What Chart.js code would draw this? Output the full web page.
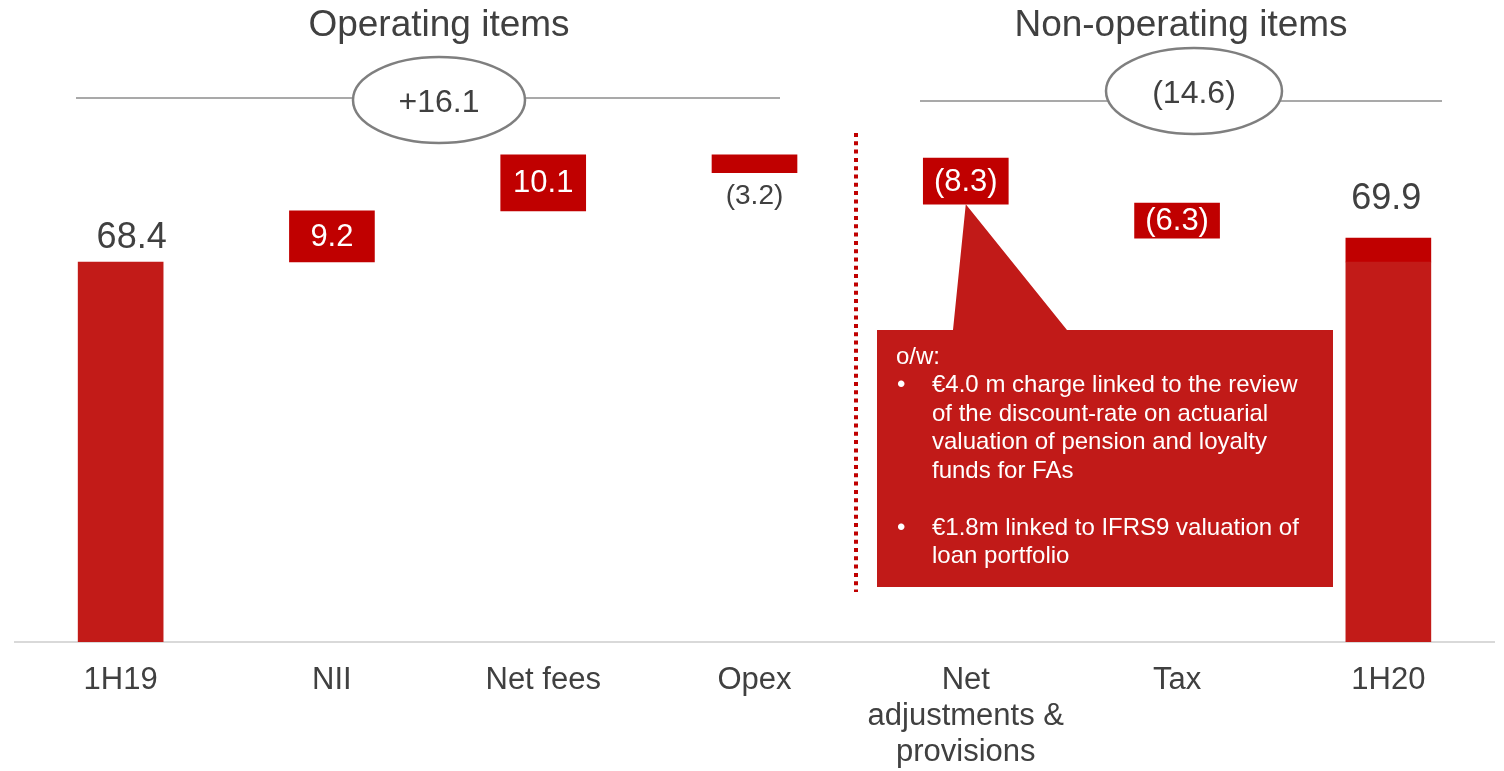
<!DOCTYPE html>
<html>
<head>
<meta charset="utf-8">
<script src="https://cdn.jsdelivr.net/npm/chart.js@4.4.0/dist/chart.umd.min.js"></script>
<style>
  html, body { margin: 0; padding: 0; background: #fff; }
</style>
</head>
<body>
<canvas id="bridge" width="1504" height="771"></canvas>
<script>
// 1H19 -> 1H20 net profit bridge

const categories = ['1H19', 'NII', 'Net fees', 'Opex', ['Net', 'adjustments &', 'provisions'], 'Tax', '1H20'];
const changes = [68.4, 9.2, 10.1, -3.2, -8.3, -6.3, 69.9];

// floating bar ends as drawn on the slide
const barLow = [0, 68.4, 77.6, 84.5, 78.8, 72.7, 0];
const barHigh = [68.4, 77.6, 87.7, 87.7, 87.1, 79.0, 68.4];
// darker top of the 1H20 column
const capLow = [null, null, null, null, null, null, 68.4];
const capHigh = [null, null, null, null, null, null, 72.7];

const groupTitles = ['Operating items', 'Non-operating items'];
const groupTotals = ['+16.1', '(14.6)'];

const noteHeader = 'o/w:';
const noteBullets = [
  ['€4.0 m charge linked to the review', 'of the discount-rate on actuarial', 'valuation of pension and loyalty', 'funds for FAs'],
  ['€1.8m linked to IFRS9 valuation of', 'loan portfolio']
];

const FONT = '"Liberation Sans", Arial, sans-serif';
const DARK_RED = '#C00000';
const RED = '#C21B18';
const TEXT = '#404040';

function fmt(v) {
  return v < 0 ? '(' + Math.abs(v).toFixed(1) + ')' : v.toFixed(1);
}

const floatData = barLow.map((lo, i) => [lo, barHigh[i]]);
const capData = capLow.map((lo, i) => (lo === null ? null : [lo, capHigh[i]]));
const barColors = categories.map((c, i) => (i === 0 || i === categories.length - 1) ? RED : DARK_RED);

// where each value label goes relative to its bar
const labelMode = ['above', 'inside', 'inside', 'below', 'inside', 'inside', 'above'];

const decorPlugin = {
  id: 'decor',
  afterDatasetsDraw(chart) {
    const ctx = chart.ctx;
    const bars = chart.getDatasetMeta(0).data;
    const caps = chart.getDatasetMeta(1).data;
    ctx.save();

    // group headers
    ctx.fillStyle = TEXT;
    ctx.textAlign = 'center';
    ctx.textBaseline = 'middle';
    ctx.font = '37px ' + FONT;
    ctx.fillText(groupTitles[0], 439, 26);
    ctx.fillText(groupTitles[1], 1181, 26);

    // rules with ovals
    const rules = [
      { x1: 76, x2: 780, y: 98, cx: 439, cy: 100, rx: 86, ry: 43, ty: 103 },
      { x1: 920, x2: 1442, y: 101, cx: 1194, cy: 91, rx: 88, ry: 43, ty: 94 }
    ];
    rules.forEach((r, i) => {
      ctx.strokeStyle = '#8c8c8c';
      ctx.lineWidth = 1.5;
      ctx.beginPath();
      ctx.moveTo(r.x1, r.y);
      ctx.lineTo(r.x2, r.y);
      ctx.stroke();
      ctx.beginPath();
      ctx.ellipse(r.cx, r.cy, r.rx, r.ry, 0, 0, Math.PI * 2);
      ctx.fillStyle = '#fff';
      ctx.fill();
      ctx.strokeStyle = '#7f7f7f';
      ctx.lineWidth = 2.5;
      ctx.stroke();
      ctx.fillStyle = TEXT;
      ctx.font = '32px ' + FONT;
      ctx.fillText(groupTotals[i], r.cx, r.ty);
    });

    // dotted separator
    ctx.strokeStyle = DARK_RED;
    ctx.lineWidth = 4;
    ctx.setLineDash([4, 4.3]);
    ctx.beginPath();
    ctx.moveTo(856, 133);
    ctx.lineTo(856, 592);
    ctx.stroke();
    ctx.setLineDash([]);

    // callout for net adjustments
    const adj = bars[4];
    const apexY = Math.max(adj.y, adj.base);
    ctx.fillStyle = '#C11A18';
    ctx.beginPath();
    ctx.moveTo(adj.x, apexY);
    ctx.lineTo(1067, 330);
    ctx.lineTo(1333, 330);
    ctx.lineTo(1333, 587);
    ctx.lineTo(877, 587);
    ctx.lineTo(877, 330);
    ctx.lineTo(953, 330);
    ctx.closePath();
    ctx.fill();

    ctx.fillStyle = '#fff';
    ctx.textAlign = 'left';
    ctx.font = '24px ' + FONT;
    let ly = 357;
    ctx.fillText(noteHeader, 896, ly);
    noteBullets.forEach((lines, b) => {
      if (b > 0) ly += 28.5;
      lines.forEach((line, k) => {
        ly += 28.5;
        if (k === 0) ctx.fillText('•', 897, ly);
        ctx.fillText(line, 932, ly);
      });
    });

    // value labels
    ctx.textAlign = 'center';
    bars.forEach((bar, i) => {
      const top = Math.min(bar.y, bar.base);
      const bottom = Math.max(bar.y, bar.base);
      const text = fmt(changes[i]);
      if (labelMode[i] === 'inside') {
        ctx.fillStyle = '#fff';
        ctx.font = '31px ' + FONT;
        ctx.fillText(text, bar.x, (top + bottom) / 2 + 1);
      } else if (labelMode[i] === 'below') {
        ctx.fillStyle = TEXT;
        ctx.font = '28px ' + FONT;
        ctx.fillText(text, bar.x, bottom + 24);
      } else {
        const cap = caps[i];
        const hasCap = capHigh[i] !== null;
        const capTop = hasCap ? Math.min(cap.y, cap.base) : top;
        ctx.fillStyle = TEXT;
        ctx.font = '36px ' + FONT;
        ctx.fillText(text, bar.x + (hasCap ? -2 : 11), capTop - (hasCap ? 39 : 24));
      }
    });
    ctx.restore();
  }
};

new Chart(document.getElementById('bridge'), {
  type: 'bar',
  data: {
    labels: categories,
    datasets: [
      {
        data: floatData,
        backgroundColor: barColors,
        borderWidth: 0,
        barThickness: 85,
        grouped: false
      },
      {
        data: capData,
        backgroundColor: DARK_RED,
        borderWidth: 0,
        barThickness: 85,
        grouped: false
      }
    ]
  },
  options: {
    responsive: false,
    animation: false,
    layout: { padding: { top: 142, left: 15, right: 10, bottom: 0 } },
    plugins: {
      legend: { display: false },
      tooltip: { enabled: false }
    },
    scales: {
      x: {
        grid: { display: false, drawTicks: false },
        border: { display: true, color: '#d9d9d9', width: 2 },
        ticks: {
          color: TEXT,
          padding: 21,
          font: { family: FONT, size: 31, lineHeight: 1.15 },
          maxRotation: 0,
          autoSkip: false
        },
        afterFit(scale) { scale.height = 129; }
      },
      y: {
        display: false,
        min: 0,
        max: 90
      }
    }
  },
  plugins: [decorPlugin]
});
</script>
</body>
</html>
